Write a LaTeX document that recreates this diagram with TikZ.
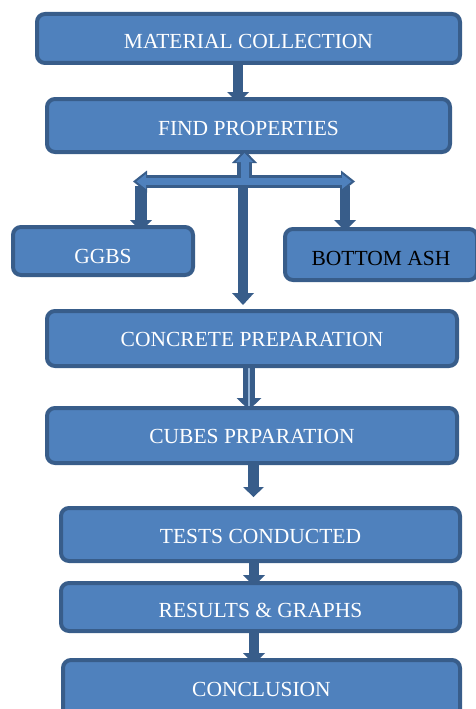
\documentclass[tikz,border=0pt]{standalone}
\usepackage{fontspec}
\setmainfont{Liberation Serif}
\usetikzlibrary{arrows.meta,backgrounds}
\definecolor{bfill}{HTML}{4F81BD}
\definecolor{bdark}{HTML}{385D8A}
\newcommand\boxfont{\fontsize{21.5pt}{25pt}\selectfont}
\tikzset{
  box/.style={rectangle, rounded corners=8pt, draw=bdark, line width=4pt, fill=bfill,
    text=white, font=\boxfont, inner sep=0pt, text depth=0pt},
  tdown/.style={text height={14.2pt+2*#1}},
  blk/.style={draw=bdark, line width=10pt,
    -{Triangle[width=22pt,length=11pt,line width=0pt]}},
}
\begin{document}
\begin{tikzpicture}[x=1pt,y=-1pt]
\useasboundingbox (0,0) rectangle (476,709);
% boxes
\node[box, tdown=3pt, minimum width=423pt, minimum height=49pt] (m) at (248.5,38.5) {MATERIAL COLLECTION};
\node[box, tdown=2.5pt, minimum width=403pt, minimum height=53pt] (f) at (248.5,125.5) {FIND PROPERTIES};
\node[box, tdown=5pt, minimum width=180pt, minimum height=48pt] (g) at (103,251) {GGBS};
\node[box, tdown=3.5pt, minimum width=192pt, minimum height=51pt, text=black] (b) at (381,254.5) {BOTTOM ASH};
\node[box, tdown=1pt, minimum width=410pt, minimum height=55pt] (c) at (252,338.5) {CONCRETE PREPARATION};
\node[box, tdown=1pt, minimum width=410pt, minimum height=55pt] (u) at (252,435.5) {CUBES PRPARATION};
\node[box, tdown=2pt, minimum width=399pt, minimum height=53pt] (t) at (260.5,534.5) {TESTS CONDUCTED};
\node[box, tdown=3pt, minimum width=399pt, minimum height=48pt] (r) at (260.5,607) {RESULTS \& GRAPHS};
\node[box, tdown=-1pt, minimum width=397pt, minimum height=60pt] (k) at (261.5,690) {CONCLUSION};
% junction coordinates
\coordinate (j) at (244.5,182);
\coordinate (hl) at (133,181.5);
\coordinate (hr) at (355,181.5);
\coordinate (hli) at (136.5,181.5);
\coordinate (hri) at (351.5,181.5);
\coordinate (dl) at (141,186);
\coordinate (dr) at (345,186);
\coordinate (dm) at (243,186);
\begin{scope}[on background layer]
  \draw[blk] ([xshift=-10.5pt]m.south) -- ([xshift=-10.5pt,yshift=-6pt]f.north);
  \draw[blk, line width=12pt] (dl) -- ([xshift=38pt,yshift=-6pt]g.north);
  \draw[blk] (dr) -- ([xshift=-36pt,yshift=-4pt]b.north);
  \draw[blk, -{Triangle[width=22pt,length=12pt,line width=0pt]}] (dm) -- ([xshift=-9pt,yshift=4pt]c.north);
  \draw[blk, line width=12pt, -{Triangle[width=25pt,length=12pt,line width=0pt]}] ([xshift=-3pt]c.south) -- ([xshift=-3pt,yshift=-4pt]u.north);
  \draw[white!40!bfill, line width=1.2pt] ([xshift=-3pt]c.south) -- ([xshift=-3pt,yshift=-8pt]u.north);
  \draw[blk, line width=11pt, -{Triangle[width=21pt,length=10pt,line width=0pt]}] ([xshift=1.5pt]u.south) -- ([xshift=-7pt,yshift=9pt]t.north);
  \draw[blk] ([xshift=-6.5pt]t.south) -- ([xshift=-6.5pt,yshift=-5pt]r.north);
  \draw[blk] ([xshift=-6.5pt]r.south) -- ([xshift=-7.5pt,yshift=-6pt]k.north);
\end{scope}
% outlined T-shaped arrows (dark outline pass)
\draw[bdark, line width=15pt, -{Triangle[width=25pt,length=13pt,line width=0pt]}]
  (j) -- ([xshift=-4pt,yshift=4pt]f.south);
\draw[bdark, line width=13pt, {Triangle[width=22pt,length=14pt,line width=0pt]}-{Triangle[width=22pt,length=14pt,line width=0pt]}]
  (hl) -- (hr);
% light interior pass
\draw[bfill, line width=8pt, -{Triangle[width=17pt,length=9pt,line width=0pt]}]
  (j) -- ([xshift=-4pt,yshift=1pt]f.south);
\draw[bfill, line width=7pt, {Triangle[width=15pt,length=9.5pt,line width=0pt]}-{Triangle[width=15pt,length=9.5pt,line width=0pt]}]
  (hli) -- (hri);
\end{tikzpicture}
\end{document}
